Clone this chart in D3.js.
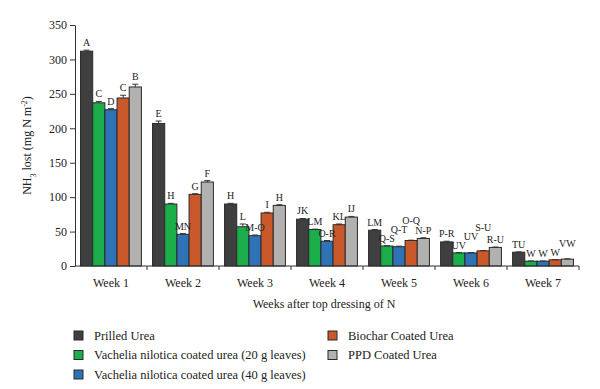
<!DOCTYPE html>
<html lang="en">
<head>
  <meta charset="UTF-8">
  <title>NH3 lost by week</title>
  <script src="https://d3js.org/d3.v7.min.js"></script>
  <style>
    body { margin: 0; background: #fff; }
    svg text { font-family: "Liberation Serif", "DejaVu Serif", serif; fill: #222; }
  </style>
</head>
<body>
  <svg id="chart" width="600" height="389"></svg>

  <script>
    const weeks = ['Week 1', 'Week 2', 'Week 3', 'Week 4', 'Week 5', 'Week 6', 'Week 7'];
    const treatments = [
      'Prilled Urea',
      'Vachelia nilotica coated urea (20 g leaves)',
      'Vachelia nilotica coated urea (40 g leaves)',
      'Biochar Coated Urea',
      'PPD Coated Urea'
    ];
    const colors = ['#3f3f3f', '#1bae4b', '#2e72b8', '#c9592a', '#b3b0b0'];

    // one array per treatment, values per week
    const prilled = [312, 207, 90, 68, 52, 35, 20];
    const vn20 = [237, 90, 57, 53, 29, 19, 7];
    const vn40 = [227, 46, 44, 36, 28, 19, 7];
    const biochar = [244, 104, 77, 60, 37, 22, 9];
    const ppd = [260, 122, 88, 71, 40, 27, 10];

    const prilledErr = [1.5, 3.5, 1, 1, 1, 1, 0.5];
    const vn20Err = [2, 1, 4, 0.5, 0.5, 0.5, 0.3];
    const vn40Err = [1.5, 1, 1, 1, 0.8, 0.5, 0.3];
    const biocharErr = [4, 1, 1, 1, 0.5, 0.5, 0.3];
    const ppdErr = [4, 2, 1, 1, 1, 0.5, 0.5];

    const prilledLbl = ['A', 'E', 'H', 'JK', 'LM', 'P-R', 'TU'];
    const vn20Lbl = ['C', 'H', 'L', 'LM', 'Q-S', 'UV', 'W'];
    const vn40Lbl = ['D', 'MN', 'M-O', 'O-R', 'Q-T', 'UV', 'W'];
    const biocharLbl = ['C', 'G', 'I', 'KL', 'O-Q', 'S-U', 'W'];
    const ppdLbl = ['B', 'F', 'H', 'IJ', 'N-P', 'R-U', 'VW'];

    const values = [prilled, vn20, vn40, biochar, ppd];
    const errors = [prilledErr, vn20Err, vn40Err, biocharErr, ppdErr];
    const labels = [prilledLbl, vn20Lbl, vn40Lbl, biocharLbl, ppdLbl];

    const yTicks = [0, 50, 100, 150, 200, 250, 300, 350];

    const svg = d3.select('#chart');
    const margin = { left: 75, right: 21, top: 25, bottom: 123 };
    const width = 600 - margin.left - margin.right;
    const height = 389 - margin.top - margin.bottom;

    const g = svg.append('g').attr('transform', `translate(${margin.left},${margin.top})`);

    const x0 = d3.scaleBand().domain(weeks).range([0, width]).paddingInner(0.155).paddingOuter(0.077);
    const x1 = d3.scaleBand().domain(d3.range(treatments.length)).range([0, x0.bandwidth()]);
    const y = d3.scaleLinear().domain([0, 350]).range([height, 0]);

    // bars
    const rows = [];
    weeks.forEach((w, wi) => {
      treatments.forEach((t, ti) => {
        rows.push({ week: w, wi, ti, v: values[ti][wi], e: errors[ti][wi], lbl: labels[ti][wi] });
      });
    });

    g.selectAll('rect.bar').data(rows).enter()
      .append('rect')
      .attr('class', 'bar')
      .attr('x', d => x0(d.week) + x1(d.ti))
      .attr('y', d => y(d.v))
      .attr('width', x1.bandwidth())
      .attr('height', d => y(0) - y(d.v))
      .attr('fill', d => colors[d.ti])
      .attr('stroke', '#2a2a2a')
      .attr('stroke-width', 1);

    // error bars
    const eb = g.selectAll('g.err').data(rows).enter().append('g').attr('class', 'err')
      .attr('transform', d => `translate(${x0(d.week) + x1(d.ti) + x1.bandwidth() / 2},0)`);
    eb.append('line')
      .attr('y1', d => y(d.v + d.e)).attr('y2', d => y(d.v))
      .attr('stroke', '#333').attr('stroke-width', 1);
    eb.append('line')
      .attr('x1', -3).attr('x2', 3)
      .attr('y1', d => y(d.v + d.e)).attr('y2', d => y(d.v + d.e))
      .attr('stroke', '#333').attr('stroke-width', 1);

    // letters
    const lbls = g.selectAll('text.lbl').data(rows).enter()
      .append('text')
      .attr('class', 'lbl')
      .attr('x', d => x0(d.week) + x1(d.ti) + x1.bandwidth() / 2)
      .attr('y', d => y(d.v + d.e) - 4)
      .attr('text-anchor', 'middle')
      .style('font-size', '10px')
      .text(d => d.lbl);

    // nudge letters up when they run into their left neighbour (like the original)
    const nodes = lbls.nodes();
    nodes.forEach((n, i) => {
      const d = rows[i];
      if (d.ti === 0) return;
      const prev = nodes[i - 1];
      const a = prev.getBBox(), b = n.getBBox();
      const xOverlap = b.x < a.x + a.width - 0.5;
      const yOverlap = b.y < a.y + a.height - 2 && b.y + b.height > a.y + 2;
      if (xOverlap && yOverlap) {
        const cy = +n.getAttribute('y');
        const newY = Math.min(cy, cy - ((b.y + b.height) - (a.y + 2)));
        n.setAttribute('y', newY);
      }
    });

    // y axis
    const yAxis = g.append('g')
      .call(d3.axisLeft(y).tickValues(yTicks).tickSize(5).tickSizeOuter(0));
    yAxis.selectAll('text').style('font-size', '12px').attr('x', -8);
    yAxis.selectAll('line, path').attr('stroke', '#333');

    // x axis with ticks at group boundaries
    const xg = g.append('g').attr('transform', `translate(0,${height})`);
    xg.append('line').attr('x1', 0).attr('x2', width).attr('stroke', '#333');
    const bounds = d3.range(weeks.length + 1).map(i => i * width / weeks.length);
    xg.selectAll('line.tk').data(bounds.slice(1)).enter()
      .append('line').attr('class', 'tk')
      .attr('x1', d => d).attr('x2', d => d).attr('y1', 0).attr('y2', 4)
      .attr('stroke', '#333');
    xg.selectAll('text.wk').data(weeks).enter()
      .append('text').attr('class', 'wk')
      .attr('x', d => x0(d) + x0.bandwidth() / 2)
      .attr('y', 21)
      .attr('text-anchor', 'middle')
      .style('font-size', '12px')
      .text(d => d);

    g.append('text')
      .attr('x', width / 2 - 3)
      .attr('y', height + 42)
      .attr('text-anchor', 'middle')
      .style('font-size', '12px')
      .text('Weeks after top dressing of N');

    // y title
    const yt = svg.append('text')
      .attr('transform', `translate(31,${margin.top + height / 2}) rotate(-90)`)
      .attr('text-anchor', 'middle')
      .style('font-size', '12px');
    yt.append('tspan').text('NH');
    yt.append('tspan').attr('baseline-shift', 'sub').style('font-size', '8px').text('3');
    yt.append('tspan').text(' lost (mg N m');
    yt.append('tspan').attr('baseline-shift', 'super').style('font-size', '8px').text('-2');
    yt.append('tspan').text(')');

    // legend
    const legendPos = [
      { col: 0, row: 0 }, { col: 0, row: 1 }, { col: 0, row: 2 },
      { col: 1, row: 0 }, { col: 1, row: 1 }
    ];
    const leg = svg.append('g').selectAll('g').data(treatments).enter().append('g')
      .attr('transform', (d, i) => `translate(${legendPos[i].col ? 328 : 74},${331 + legendPos[i].row * 19.5})`);
    leg.append('rect')
      .attr('width', 9).attr('height', 9)
      .attr('fill', (d, i) => colors[i])
      .attr('stroke', '#2a2a2a');
    leg.append('text')
      .attr('x', 20).attr('y', 8.5)
      .style('font-size', '12.5px')
      .text(d => d);
  </script>
</body>
</html>
